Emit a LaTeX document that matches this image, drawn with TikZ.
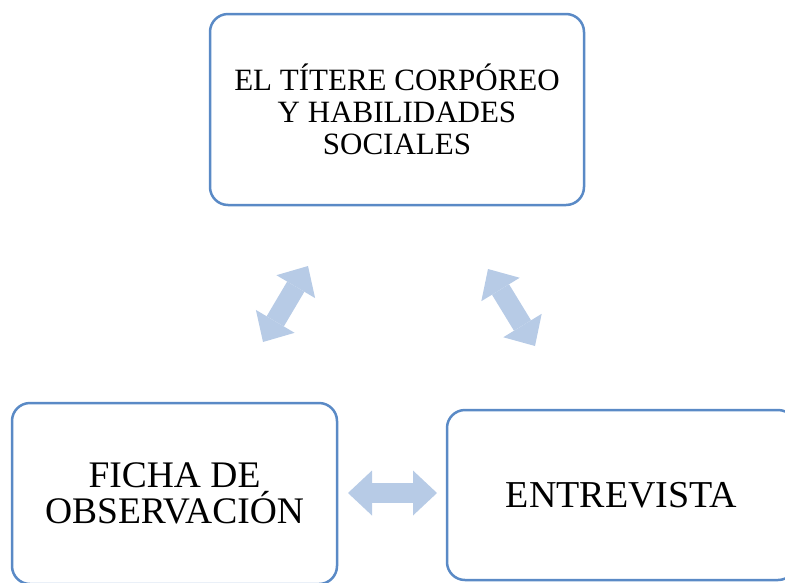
\documentclass[tikz,border=0pt]{standalone}
\usepackage{fontspec}
\setmainfont{Liberation Serif}
\usepackage{xcolor}
\usetikzlibrary{
    arrows.meta,
    positioning
}
\definecolor{boxline}{HTML}{5A8AC6}
\definecolor{arrowfill}{HTML}{B7CBE6}
\tikzset{
    stagebox/.style={draw=boxline, line width=2.5pt, rounded corners=18pt,
        align=center, inner sep=0pt},
    linkarrow/.style={draw=arrowfill, line width=20pt,
        {Triangle[length=24pt,width=45pt,line width=0pt]}-{Triangle[length=24pt,width=45pt,line width=0pt]}}
}

\begin{document}
\begin{tikzpicture}[x=1pt, y=-1pt]
                        \useasboundingbox (0, 0) rectangle (785, 582);
                        \node[stagebox, minimum width=374pt, minimum height=191pt,
                            font=\fontsize{31}{32}\selectfont] (tema) at (397, 109.5)
                            {EL TÍTERE CORPÓREO\\Y HABILIDADES\\SOCIALES};
                        \node[stagebox, minimum width=325pt, minimum height=181pt,
                            font=\fontsize{37.5}{36}\selectfont] (ficha) at (174.5, 493.5)
                            {FICHA DE\\OBSERVACIÓN};
                        \node[stagebox, minimum width=349pt, minimum height=170pt,
                            font=\fontsize{38}{38}\selectfont] (entrevista) at (621.5, 495)
                            {ENTREVISTA};
                        \coordinate (fichaUp) at (263, 342);
                        \coordinate (temaLeft) at (308, 266);
                        \coordinate (temaRight) at (488, 269);
                        \coordinate (entrevistaUp) at (535, 346);
                        \coordinate (fichaRight) at (348, 493);
                        \coordinate (entrevistaLeft) at (437, 493);
                        \draw
                        (fichaUp) edge[linkarrow] (temaLeft)
                        (temaRight) edge[linkarrow] (entrevistaUp)
                        (fichaRight) edge[linkarrow] (entrevistaLeft);
                    \end{tikzpicture}
\end{document}
